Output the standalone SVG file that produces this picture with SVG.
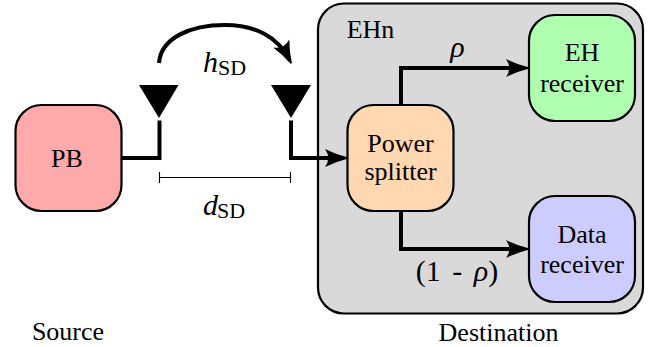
<svg xmlns="http://www.w3.org/2000/svg" width="654" height="347" viewBox="0 0 654 347">
<style>
text{font-family:"Liberation Serif","Times New Roman",serif;font-size:26px;fill:#000;text-anchor:middle}
.box{stroke:#000;stroke-width:2.2}
.w{fill:none;stroke:#000;stroke-width:4}
.i{font-style:italic;font-size:30px}
.s{font-size:22px;text-anchor:start}
.st{text-anchor:start}
</style>
<defs>
<marker id="a" markerUnits="userSpaceOnUse" markerWidth="24" markerHeight="20" refX="18" refY="10" orient="auto" overflow="visible">
<path d="M0 1Q11 6.500 22.500 9.300V10.700Q11 13.500 0 19Q6.500 10 0 1Z" fill="#000"/>
</marker>
</defs>
<g id="eh-node"><rect class="box" x="318" y="3.500" width="325" height="310" rx="26" fill="#d9d9d9"/><text x="370.500" y="38">EHn</text></g>
<g id="connectors">
<path class="w" d="M121 158H159.500V120.500"/>
<path class="w" d="M291 120.500V158H343" marker-end="url(#a)"/>
<path class="w" d="M401 105V68H524" marker-end="url(#a)"/>
<path class="w" d="M401 211V249H524" marker-end="url(#a)"/>
<path class="w" d="M159 63C161 38 190 25 225 25C255 25 278 37 289.300 59.500" marker-end="url(#a)"/>
<path fill="none" stroke="#000" stroke-width="1.100" d="M159.500 172V183M159.500 177.500H290.500M290.500 172V183"/>
</g>
<g id="pb"><rect class="box" x="15.500" y="105" width="106" height="106" rx="26" fill="#ffaaaa"/><text x="67" y="167">PB</text></g>
<g id="power-splitter"><rect class="box" x="347.500" y="105" width="106" height="106" rx="26" fill="#ffd7b0"/><text x="400.500" y="152">Power</text><text x="400.500" y="180">splitter</text></g>
<g id="eh-receiver"><rect class="box" x="529" y="15" width="106" height="106" rx="26" fill="#b0ffb0"/><text x="582" y="61">EH</text><text x="582" y="92">receiver</text></g>
<g id="data-receiver"><rect class="box" x="529" y="196" width="106" height="106" rx="26" fill="#ccccff"/><text x="582" y="243">Data</text><text x="582" y="273">receiver</text></g>
<g id="antenna-left"><polygon points="139,85 178.500,85 159,118" fill="#000"/></g>
<g id="antenna-right"><polygon points="271,85 311,85 291,118" fill="#000"/></g>
<g id="labels">
<text x="203" y="72" class="i st">h</text><text x="218" y="75" class="s">SD</text>
<text x="203" y="215" class="i st">d</text><text x="217" y="218" class="s">SD</text>
<text x="457.500" y="57" class="i">ρ</text>
<text x="457" y="281" style="font-size:30px;word-spacing:4px">(1 - <tspan class="i">ρ</tspan>)</text>
<text x="68" y="340">Source</text>
<text x="498.500" y="341">Destination</text>
</g>
</svg>
